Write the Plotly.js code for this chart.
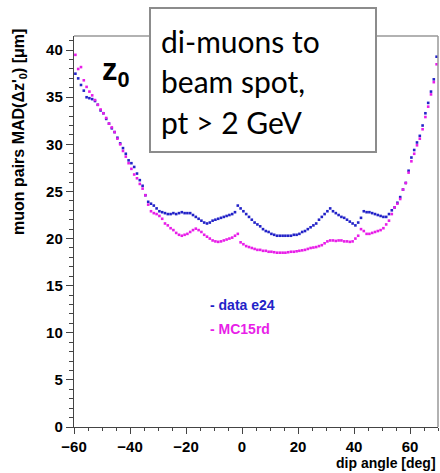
<!DOCTYPE html>
<html>
<head>
<meta charset="utf-8">
<script src="https://cdn.plot.ly/plotly-3.0.1.min.js"></script>
<style>
html,body{margin:0;padding:0;background:#fff;}
#chart{width:440px;height:473px;}
</style>
</head>
<body>
<div id="chart"></div>
<script>
// bin centres of dip angle [deg]
const dipAngle = [-59.5,-58.5,-57.5,-56.5,-55.5,-54.5,-53.5,-52.5,-51.5,-50.5,-49.5,-48.5,-47.5,-46.5,-45.5,-44.5,-43.5,-42.5,-41.5,-40.5,-39.5,-38.5,-37.5,-36.5,-35.5,-34.5,-33.5,-32.5,-31.5,-30.5,-29.5,-28.5,-27.5,-26.5,-25.5,-24.5,-23.5,-22.5,-21.5,-20.5,-19.5,-18.5,-17.5,-16.5,-15.5,-14.5,-13.5,-12.5,-11.5,-10.5,-9.5,-8.5,-7.5,-6.5,-5.5,-4.5,-3.5,-2.5,-1.5,-0.5,0.5,1.5,2.5,3.5,4.5,5.5,6.5,7.5,8.5,9.5,10.5,11.5,12.5,13.5,14.5,15.5,16.5,17.5,18.5,19.5,20.5,21.5,22.5,23.5,24.5,25.5,26.5,27.5,28.5,29.5,30.5,31.5,32.5,33.5,34.5,35.5,36.5,37.5,38.5,39.5,40.5,41.5,42.5,43.5,44.5,45.5,46.5,47.5,48.5,49.5,50.5,51.5,52.5,53.5,54.5,55.5,56.5,57.5,58.5,59.5,60.5,61.5,62.5,63.5,64.5,65.5,66.5,67.5,68.5,69.5];

// data e24
const dataE24 = [37.5,37.0,36.3,35.7,35.0,34.9,34.8,34.6,34.2,33.6,33.3,32.7,32.2,31.7,31.3,30.7,30.1,29.6,29.0,28.3,28.0,27.6,26.9,26.2,25.6,24.6,23.9,23.7,23.5,23.2,22.9,22.8,22.7,22.6,22.6,22.7,22.6,22.7,22.8,22.7,22.7,22.7,22.5,22.3,22.1,21.9,21.7,21.6,21.7,21.9,22.0,22.1,22.2,22.3,22.4,22.5,22.6,22.8,23.5,23.2,22.9,22.6,22.3,22.0,21.7,21.5,21.3,21.0,20.8,20.7,20.5,20.4,20.3,20.3,20.3,20.3,20.3,20.3,20.4,20.4,20.5,20.7,20.8,21.0,21.2,21.4,21.6,22.0,22.3,22.6,22.9,23.2,22.9,22.7,22.5,22.3,22.2,22.0,21.8,21.6,21.4,21.7,22.2,22.9,22.8,22.8,22.7,22.6,22.5,22.4,22.3,22.3,22.6,23.0,23.3,23.8,24.4,25.2,25.9,27.2,28.6,29.4,30.2,30.9,32.0,33.3,34.4,35.6,36.9,39.3];

// MC15rd
const mc15rd = [39.5,38.0,38.2,36.8,36.1,35.6,35.2,34.7,34.2,33.7,33.3,32.8,32.2,31.8,31.3,30.6,30.0,29.3,28.7,28.0,27.4,26.8,26.4,25.8,25.3,24.6,23.6,22.9,22.7,22.6,22.4,22.1,21.6,21.4,21.1,20.9,20.6,20.4,20.3,20.4,20.5,20.7,20.9,21.05,20.9,20.7,20.4,20.2,20.0,19.8,19.7,19.65,19.7,19.8,19.9,20.0,20.1,20.3,20.5,19.6,19.4,19.2,19.1,19.0,18.9,18.8,18.8,18.7,18.7,18.6,18.6,18.55,18.5,18.5,18.5,18.5,18.55,18.6,18.6,18.65,18.7,18.75,18.8,18.9,19.0,19.05,19.1,19.2,19.3,19.5,19.7,19.8,19.8,19.75,19.8,19.8,19.7,19.7,19.65,19.7,20.0,20.3,21.0,20.8,20.5,20.5,20.6,20.7,20.8,20.9,21.1,21.5,21.9,22.6,23.3,23.7,24.2,25.2,25.9,27.0,28.2,29.0,29.9,30.6,31.6,32.9,34.0,35.3,36.6,38.5];

const seriesNames = ["data e24", "MC15rd"];
const xTickVals = [-60,-40,-20,0,20,40,60];
const yTickVals = [0,5,10,15,20,25,30,35,40];
const boxLines = ["di-muons to", "beam spot,", "pt > 2 GeV"];

const BLUE = "#2323c8";
const MAG = "#e81ee8";
const AX = "#444";

const traces = [
  {x: dipAngle, y: dataE24, type: "scatter", mode: "markers", name: seriesNames[0],
   marker: {symbol: "square", size: 2.6, color: BLUE}},
  {x: dipAngle, y: mc15rd, type: "scatter", mode: "markers", name: seriesNames[1],
   marker: {symbol: "square", size: 2.6, color: MAG}}
];

// paper coordinate helpers (plot area: x 74..438 px, y 36..427 px)
const L = 74, R = 438, T = 36, B = 427;
const px = v => (v - L) / (R - L);
const py = v => (B - v) / (B - T);

const annotations = [
  {xref: "paper", yref: "paper", x: px(100), y: py(72), xanchor: "left", yanchor: "middle",
   text: "<b>z<sub>0</sub></b>", showarrow: false,
   font: {family: "Liberation Sans, Arial, sans-serif", size: 31, color: "#000"}},
  {xref: "paper", yref: "paper", x: px(208), y: py(305), xanchor: "left", yanchor: "middle",
   text: "<b>- " + seriesNames[0] + "</b>", showarrow: false,
   font: {family: "Liberation Sans, Arial, sans-serif", size: 14, color: BLUE}},
  {xref: "paper", yref: "paper", x: px(208), y: py(329), xanchor: "left", yanchor: "middle",
   text: "<b>- " + seriesNames[1] + "</b>", showarrow: false,
   font: {family: "Liberation Sans, Arial, sans-serif", size: 14, color: MAG}},
  {xref: "paper", yref: "paper", x: px(19), y: py(132), xanchor: "center", yanchor: "middle",
   textangle: -90, text: "<b>muon pairs MAD(Δz'<sub>0</sub>) [μm]</b>", showarrow: false,
   font: {family: "Liberation Sans, Arial, sans-serif", size: 16, color: "#000"}},
  {xref: "paper", yref: "paper", x: px(438), y: py(463), xanchor: "right", yanchor: "middle",
   text: "<b>dip angle [deg]</b>", showarrow: false,
   font: {family: "Liberation Sans, Arial, sans-serif", size: 14, color: "#000"}}
];
const lineY = [41, 81, 122];
boxLines.forEach((t, i) => {
  annotations.push({xref: "paper", yref: "paper", x: px(159), y: py(lineY[i]), xanchor: "left", yanchor: "middle",
    text: t, showarrow: false,
    font: {family: "Lato, Carlito, sans-serif", size: 30, color: "#000"}});
});

const shapes = [
  // grey top and right frame
  {type: "line", xref: "paper", yref: "paper", x0: 0, x1: 1, y0: 1, y1: 1, line: {color: "#999", width: 1.5}, layer: "above"},
  {type: "line", xref: "paper", yref: "paper", x0: 1, x1: 1, y0: 0, y1: 1, line: {color: "#999", width: 1.5}, layer: "above"},
  // text box
  {type: "rect", xref: "paper", yref: "paper", x0: px(150), x1: px(376), y0: py(152), y1: py(8),
   line: {color: "#8c8c8c", width: 2}, fillcolor: "#fff", layer: "above"}
];

const layout = {
  width: 440, height: 473,
  margin: {l: L, r: 440 - R, t: T, b: 473 - B},
  paper_bgcolor: "#fff", plot_bgcolor: "#fff",
  showlegend: false,
  font: {family: "Liberation Sans, Arial, sans-serif"},
  xaxis: {
    range: [-60, 70], tickvals: xTickVals, ticks: "outside", ticklen: 6, tickwidth: 1, tickcolor: AX,
    showline: true, linecolor: AX, linewidth: 1.2, showgrid: false, zeroline: false,
    minor: {dtick: 5, tick0: 0, ticks: "outside", ticklen: 3, tickcolor: AX, showgrid: false},
    tickfont: {size: 15, color: "#000", weight: "bold"}
  },
  yaxis: {
    range: [0, 41.5], tickvals: yTickVals, ticks: "outside", ticklen: 7, tickwidth: 1, tickcolor: AX,
    showline: true, linecolor: AX, linewidth: 1.2, showgrid: false, zeroline: false,
    minor: {dtick: 1, tick0: 0, ticks: "outside", ticklen: 4, tickcolor: AX, showgrid: false},
    tickfont: {size: 15, color: "#000", weight: "bold"}
  },
  annotations: annotations,
  shapes: shapes
};

Plotly.newPlot("chart", traces, layout, {staticPlot: true, displayModeBar: false});
</script>
</body>
</html>
